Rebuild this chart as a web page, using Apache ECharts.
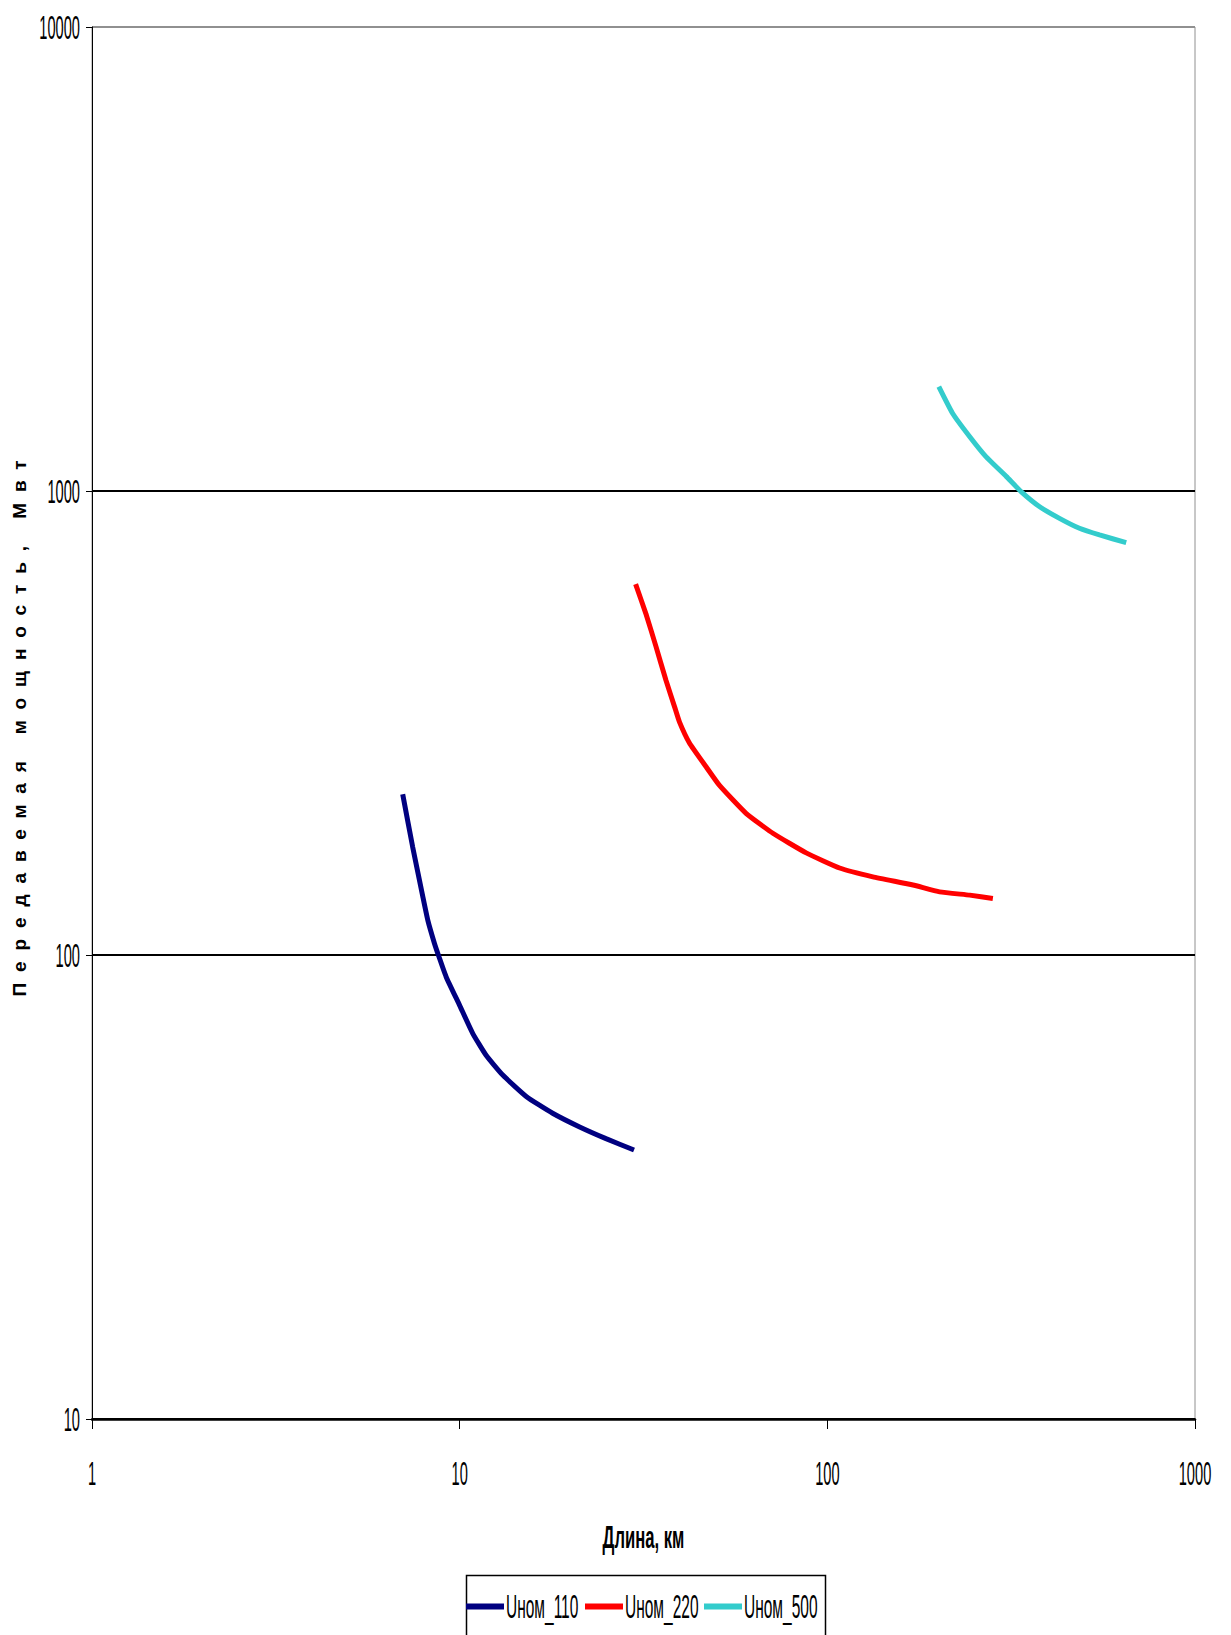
<!DOCTYPE html>
<html lang="ru">

<head>
    <meta charset="UTF-8">
    <title>Передаваемая мощность</title>
    <script src="https://cdn.jsdelivr.net/npm/echarts@6/dist/echarts.min.js"></script>
    <style>
        body { margin: 0; background: #fff; }
    </style>
</head>

<body>
    <div id="main" style="width: 1231px; height: 1635px;"></div>
    <script>
    // длина линии, км и передаваемая мощность, МВт
    const len110 = [7.0, 7.45, 7.94, 8.19, 8.54, 8.77, 9.19, 9.99, 10.85, 11.8, 13.1, 15.2, 17.9, 21.2, 25.0, 29.8]
    const pow110 = [222, 171, 133.5, 118.9, 105.9, 99.5, 89.7, 78.0, 67.8, 60.8, 55.1, 49.5, 45.6, 42.6, 40.2, 38.0]

    const len220 = [30.1, 32.2, 34.2, 36.4, 38.4, 39.6, 42.2, 46.8, 50.9, 60.1, 71.1, 87.6, 108, 133, 171, 202, 244, 282]
    const pow220 = [630, 540, 462, 391, 343, 318, 286, 254.5, 232, 202, 183, 166, 154, 147.4, 141.5, 136.8, 134.6, 132.4]

    const len500 = [201, 219, 244, 270, 307, 337, 378, 428, 485, 550, 650]
    const pow500 = [1678, 1471, 1309, 1186, 1074, 996, 925, 873, 831, 804, 774]

    const seriesNames = ['Uном_110', 'Uном_220', 'Uном_500']
    const seriesColors = ['#000080', '#ff0000', '#33cccc']

    const xTickLabels = ['1', '10', '100', '1000']
    const yTickLabels = ['10', '100', '1000', '10000']

    const xName = 'Длина, км'
    const yName = 'Передавемая мощность, Мвт'

    const sans = "'Liberation Sans', Arial, sans-serif"

    function pairs(xs, ys) {
        return xs.map(function (x, i) { return [x, ys[i]] })
    }

    function tickLabel(list) {
        return function (v) {
            const found = list.find(function (s) { return Math.abs(Number(s) - v) < 1e-6 * v })
            return found || ''
        }
    }

    const chart = echarts.init(document.getElementById('main'), null, { renderer: 'svg' })

    // три легенды по одному элементу, чтобы сжатый текст не оставлял дыр
    const legendLefts = [466, 585, 704]

    const option = {
        animation: false,
        backgroundColor: '#fff',
        grid: {
            left: 92,
            right: 36,
            top: 27,
            bottom: 216,
            outerBoundsMode: 'none',
            containLabel: false,
            show: true,
            borderColor: '#909090',
            borderWidth: 1
        },
        legend: seriesNames.map(function (name, i) {
            return {
                top: 1590,
                left: legendLefts[i],
                data: [name],
                icon: 'rect',
                itemWidth: 38,
                itemHeight: 6,
                padding: 0,
                textStyle: {
                    fontFamily: sans,
                    fontSize: 33,
                    color: '#000',
                    padding: [0, 0, 0, -3]
                }
            }
        }),
        graphic: [{
            type: 'rect',
            left: 464,
            top: 1573,
            shape: { width: 359, height: 100 },
            style: { fill: 'none', stroke: '#000', lineWidth: 1.5 },
            silent: true
        }],
        xAxis: {
            type: 'log',
            logBase: 10,
            min: 1,
            max: 1000,
            name: xName,
            nameLocation: 'middle',
            nameGap: 102,
            nameTextStyle: {
                fontFamily: sans,
                fontSize: 32,
                fontWeight: 'bold',
                color: '#000'
            },
            axisLine: { lineStyle: { color: '#000', width: 2.5 } },
            axisTick: { show: true, inside: false, length: 10, lineStyle: { color: '#000', width: 1 } },
            axisLabel: {
                margin: 37,
                fontFamily: sans,
                fontSize: 34,
                color: '#000',
                formatter: tickLabel(xTickLabels)
            },
            splitLine: { show: false },
            minorTick: { show: false }
        },
        yAxis: {
            type: 'log',
            logBase: 10,
            min: 10,
            max: 10000,
            name: yName,
            nameLocation: 'middle',
            nameGap: 63,
            nameMoveOverlap: false,
            nameTextStyle: {
                fontFamily: sans,
                fontSize: 19,
                fontWeight: 'bold',
                color: '#000'
            },
            axisLine: { show: true, lineStyle: { color: '#000', width: 1 } },
            axisTick: { show: true, inside: false, length: 6, lineStyle: { color: '#000', width: 1 } },
            axisLabel: {
                margin: 12,
                fontFamily: sans,
                fontSize: 34,
                color: '#000',
                formatter: tickLabel(yTickLabels)
            },
            splitLine: {
                show: true,
                lineStyle: { color: ['#000', '#000', '#000', '#909090'], width: 2 }
            }
        },
        series: [
            pairs(len110, pow110),
            pairs(len220, pow220),
            pairs(len500, pow500)
        ].map(function (data, i) {
            return {
                name: seriesNames[i],
                type: 'line',
                data: data,
                showSymbol: false,
                symbol: 'none',
                smooth: 0.15,
                color: seriesColors[i],
                lineStyle: { color: seriesColors[i], width: 5 }
            }
        })
    }

    chart.setOption(option)

    // узкий "экселевский" шрифт: сжимаем текст по горизонтали вокруг его точки привязки
    function condense(t, sx) {
        if (t.dataset.cond) return
        t.dataset.cond = '1'
        const x = parseFloat(t.getAttribute('x') || '0')
        if (x) t.setAttribute('x', x / sx)
        const tr = t.getAttribute('transform') || ''
        t.setAttribute('transform', (tr + ' scale(' + sx + ' 1)').trim())
    }

    function styleTexts() {
        document.querySelectorAll('#main text').forEach(function (t) {
            const s = t.textContent
            if (s === yName) {
                // разрядка букв, как в исходнике
                t.style.letterSpacing = '0px'
                const w = t.getComputedTextLength()
                t.style.letterSpacing = ((536 - w) / (s.length - 1)).toFixed(2) + 'px'
            } else if (xTickLabels.indexOf(s) >= 0 || yTickLabels.indexOf(s) >= 0) {
                condense(t, 0.43)
            } else if (s === xName) {
                condense(t, 0.52)
            } else if (seriesNames.indexOf(s) >= 0) {
                condense(t, 0.47)
            }
        })
    }
    styleTexts()
    chart.on('finished', styleTexts)
    </script>
</body>

</html>
